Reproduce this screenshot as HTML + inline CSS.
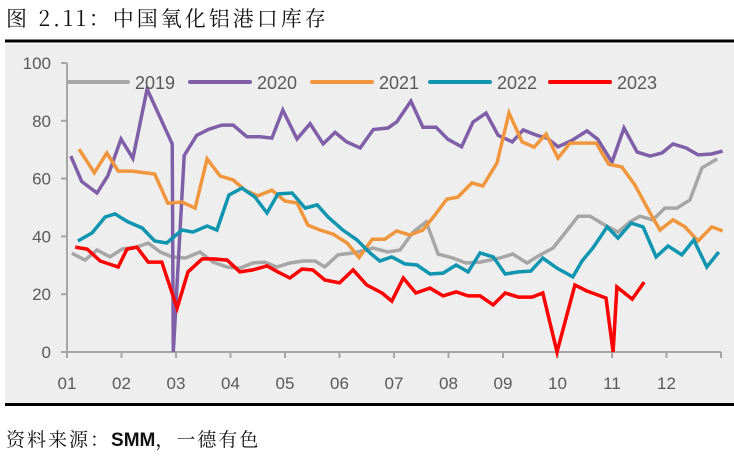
<!DOCTYPE html>
<html><head><meta charset="utf-8"><style>
body{margin:0;width:734px;height:463px;background:#fff;overflow:hidden;font-family:"Liberation Sans","Noto Sans CJK SC",sans-serif;}
#title{position:absolute;left:6px;top:3px;font-size:21px;color:#111;letter-spacing:3px;font-family:"Noto Serif CJK SC","Noto Sans CJK SC",serif;}
#src{position:absolute;left:6px;top:425px;font-size:19px;color:#111;letter-spacing:2px;font-family:"Noto Serif CJK SC","Noto Sans CJK SC",serif;}
#src b{font-family:"Liberation Sans",sans-serif;letter-spacing:0;}
svg{position:absolute;left:0;top:0;}
</style></head><body>
<div id="title">图 2.11：中国氧化铝港口库存</div>
<div id="src">资料来源：<b>SMM</b>，一德有色</div>
<svg id="chart" width="734" height="463"></svg>
<script>
const monthLabels=["01","02","03","04","05","06","07","08","09","10","11","12"];
const yTicks=[0,20,40,60,80,100];
const seriesNames=["2019","2020","2021","2022","2023"];
const seriesColors=["#a6a6a6","#7f5fa8","#f0963c","#0f95b0","#ff0000"];
const s2019=[[0.09,34.2],[0.33,31.8],[0.55,35.3],[0.79,32.9],[1.01,35.6],[1.28,36.3],[1.49,37.7],[1.71,34.6],[1.93,32.9],[2.17,32.5],[2.44,34.6],[2.68,31.1],[2.94,29.4],[3.17,29],[3.41,30.8],[3.63,31.1],[3.85,29.4],[4.09,30.8],[4.33,31.5],[4.55,31.5],[4.73,29.4],[4.97,33.6],[5.25,34.3],[5.5,35.3],[5.61,36],[5.89,34.6],[6.11,35.3],[6.35,41.5],[6.59,45],[6.81,33.9],[7.08,32.5],[7.32,30.8],[7.58,31.1],[7.94,32.5],[8.18,33.9],[8.44,30.8],[8.68,33.6],[8.92,36],[9.14,41.2],[9.38,47],[9.6,47],[9.87,43.9],[10.11,41.5],[10.33,45],[10.51,47],[10.75,45.7],[10.97,49.8],[11.19,49.8],[11.43,52.6],[11.65,63.7],[11.93,66.8]];
const s2020=[[0.07,67.8],[0.27,59],[0.55,55],[0.75,61],[0.99,73.7],[1.21,67],[1.47,91],[1.93,72],[1.95,0],[2.15,68],[2.38,75],[2.59,77],[2.84,78.5],[3.05,78.5],[3.3,74.5],[3.54,74.5],[3.76,74],[3.96,83.7],[4.22,73.7],[4.46,79],[4.7,72],[4.92,76],[5.13,72.7],[5.38,70.6],[5.62,77],[5.89,77.5],[6.05,79.6],[6.31,86.8],[6.53,77.8],[6.77,77.8],[6.99,73.6],[7.24,71],[7.45,79.6],[7.69,82.7],[7.91,75],[8.17,72.7],[8.37,76.8],[8.62,75],[8.81,74],[9.01,71],[9.28,73.4],[9.54,76.5],[9.74,73.6],[10.0,65.7],[10.22,77.5],[10.46,69.2],[10.7,67.8],[10.92,68.9],[11.12,72],[11.36,70.6],[11.58,68.2],[11.83,68.5],[12.03,69.5]];
const s2021=[[0.22,70.2],[0.5,62],[0.73,68.9],[0.94,62.6],[1.19,62.6],[1.61,61.6],[1.85,51.5],[2.11,51.9],[2.35,49.8],[2.57,66.8],[2.81,60.9],[3.05,59.5],[3.27,56],[3.5,54],[3.76,56],[4.0,52.2],[4.22,51.6],[4.42,43.9],[4.64,42.2],[4.88,40.8],[5.14,37.7],[5.36,32.7],[5.6,39],[5.83,39],[6.05,41.9],[6.29,40.5],[6.53,42.2],[6.75,47.4],[6.97,52.9],[7.17,53.6],[7.43,58.5],[7.63,57.4],[7.89,65.4],[8.11,82.7],[8.35,72.7],[8.57,70.9],[8.79,75.4],[9.01,67.1],[9.23,72.3],[9.47,72.3],[9.71,72.3],[9.94,65],[10.18,64],[10.42,57.8],[10.7,48.1],[10.88,42.2],[11.12,45.7],[11.34,43.3],[11.58,38.4],[11.83,43.3],[12.03,41.9]];
const s2022=[[0.2,38.4],[0.46,41.2],[0.7,46.7],[0.88,47.8],[1.12,45],[1.38,42.9],[1.61,38.4],[1.83,37.7],[2.11,42.2],[2.31,41.5],[2.57,43.6],[2.75,42.2],[2.97,54.3],[3.21,56.7],[3.45,53.6],[3.67,48.1],[3.87,54.7],[4.13,55],[4.37,49.8],[4.59,50.9],[4.79,46.7],[5.06,42.2],[5.32,38.8],[5.56,34.3],[5.74,31.5],[5.96,32.9],[6.2,30.5],[6.42,30.1],[6.66,27],[6.9,27.3],[7.14,30.1],[7.36,27.7],[7.58,34.3],[7.82,32.9],[8.04,27],[8.28,27.7],[8.51,28],[8.73,32.5],[8.99,29],[9.28,26],[9.45,31.5],[9.65,36],[9.91,43.3],[10.11,39.4],[10.35,44.6],[10.57,43.3],[10.81,32.9],[11.03,36.7],[11.28,33.6],[11.5,38.8],[11.74,29.4],[11.96,34.6]];
const s2023=[[0.15,36.3],[0.37,35.6],[0.61,31.5],[0.94,29.4],[1.1,35.6],[1.28,36.3],[1.49,31.1],[1.74,31.1],[2.02,15.2],[2.22,27.7],[2.48,32.2],[2.68,32.2],[2.94,31.8],[3.17,27.7],[3.41,28.4],[3.67,29.8],[3.87,27.7],[4.09,25.6],[4.31,28.7],[4.51,28.4],[4.73,24.9],[5.0,23.9],[5.25,28.4],[5.5,23.2],[5.78,20.4],[5.96,17.6],[6.17,25.6],[6.4,20.4],[6.66,22.1],[6.9,19.4],[7.14,20.8],[7.36,19.4],[7.58,19.4],[7.82,16.3],[8.04,20.4],[8.28,19],[8.53,19],[8.73,20.4],[8.99,0],[9.32,23.2],[9.54,21.1],[9.89,18.7],[10.02,0],[10.09,22.5],[10.37,18.3],[10.59,24.2]];
const allSeries=[s2019,s2020,s2021,s2022,s2023];

const NS="http://www.w3.org/2000/svg";
const svg=document.getElementById('chart');
const X0=67,XW=54.5,Y0=352,Y100=63;
function xs(m){return X0+m*XW;}
function ys(v){return Y0-(v/100)*(Y0-Y100);}
function mk(t,a,p){const e=document.createElementNS(NS,t);for(const k in a)e.setAttribute(k,a[k]);(p||svg).appendChild(e);return e;}

const bg=mk('rect',{x:5,y:44,width:729,height:360,fill:'#efeeee'});


const tl=mk('rect',{x:5,y:39.5,width:729,height:3,fill:'#000'});


const bl=mk('rect',{x:5,y:403,width:729,height:3,fill:'#000'});



const yax=mk('g',{});


mk('line',{x1:X0,y1:ys(100),x2:X0,y2:Y0,stroke:'#a6a6a6','stroke-width':2},yax);
yTicks.forEach(v=>{
  mk('line',{x1:X0-6,y1:ys(v),x2:X0,y2:ys(v),stroke:'#a6a6a6','stroke-width':2},yax);
  const t=mk('text',{x:51,y:ys(v)+6,'text-anchor':'end','font-size':17,fill:'#595959','font-family':'Liberation Sans, sans-serif'},yax);
  t.textContent=v;
  
  
});
const xax=mk('g',{});


mk('line',{x1:X0,y1:Y0,x2:xs(12),y2:Y0,stroke:'#a6a6a6','stroke-width':2},xax);
for(let i=0;i<=12;i++){mk('line',{x1:xs(i),y1:Y0,x2:xs(i),y2:Y0+6,stroke:'#a6a6a6','stroke-width':2},xax);}
monthLabels.forEach((l,i)=>{
  const t=mk('text',{x:xs(i),y:389,'text-anchor':'middle','font-size':17,fill:'#595959','font-family':'Liberation Sans, sans-serif'},xax);
  t.textContent=l;
  
  
});

allSeries.forEach((s,i)=>{
  const p=mk('polyline',{points:s.map(d=>xs(d[0]).toFixed(1)+','+ys(d[1]).toFixed(1)).join(' '),fill:'none',stroke:seriesColors[i],'stroke-width':3.5,'stroke-linejoin':'miter','stroke-miterlimit':10});
  
  
});

const legX=[68,190,312,430,550];
const lg=mk('g',{});


seriesNames.forEach((n,i)=>{
  const g=mk('g',{},lg);
  
  
  mk('line',{x1:legX[i],y1:82,x2:legX[i]+60,y2:82,stroke:seriesColors[i],'stroke-width':4,'stroke-linecap':'round'},g);
  const t=mk('text',{x:legX[i]+67,y:89,'font-size':18,fill:'#595959','font-family':'Liberation Sans, sans-serif'},g);
  t.textContent=n;
});
</script>
</body></html>
